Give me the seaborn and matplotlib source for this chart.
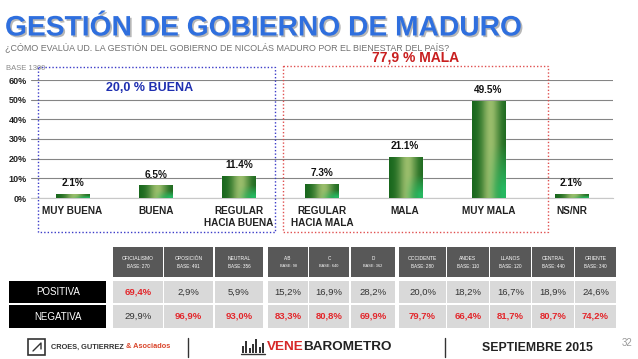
import numpy as np
import pandas as pd
import matplotlib
matplotlib.use("Agg")
import matplotlib.pyplot as plt
import matplotlib.patheffects as pe
from matplotlib.patches import Rectangle
import seaborn as sns

# ---------------- data ----------------
categories = ["MUY BUENA", "BUENA", "REGULAR\nHACIA BUENA", "REGULAR\nHACIA MALA",
              "MALA", "MUY MALA", "NS/NR"]
values = [2.1, 6.5, 11.4, 7.3, 21.1, 49.5, 2.1]
yticks = [0, 10, 20, 30, 40, 50, 60]

col_names = ["OFICIALISMO", "OPOSICIÓN", "NEUTRAL", "A/B", "C", "D",
             "OCCIDENTE", "ANDES", "LLANOS", "CENTRAL", "ORIENTE"]
col_bases = ["BASE: 270", "BASE: 491", "BASE: 356", "BASE: 98", "BASE: 640", "BASE: 362",
             "BASE: 280", "BASE: 110", "BASE: 120", "BASE: 440", "BASE: 340"]
row_names = ["POSITIVA", "NEGATIVA"]
positiva = [69.4, 2.9, 5.9, 15.2, 16.9, 28.2, 20.0, 18.2, 16.7, 18.9, 24.6]
negativa = [29.9, 96.9, 93.0, 83.3, 80.8, 69.9, 79.7, 66.4, 81.7, 80.7, 74.2]

# ---------------- figure ----------------
sns.set_style("white")
plt.rcParams["font.family"] = ["Liberation Sans", "DejaVu Sans"]

W, H = 638, 359
fig = plt.figure(figsize=(W / 100, H / 100), dpi=100)
fig.patch.set_facecolor("white")

ax = fig.add_axes([31 / W, 1 - 198 / H, (613 - 31) / W, (198 - 80) / H])
df = pd.DataFrame({"cat": categories, "val": values})
sns.barplot(data=df, x="cat", y="val", color="#2e8b3a", width=0.4, ax=ax, zorder=3)

ax.set_ylim(0, 60)
ax.set_yticks(yticks)
ax.set_yticklabels([f"{t}%" for t in yticks], fontsize=6.5, fontweight="bold", color="#222222")
ax.yaxis.grid(True, color="#858585", lw=0.8)
ax.set_axisbelow(True)
for s in ["left", "right", "top"]:
    ax.spines[s].set_visible(False)
ax.spines["bottom"].set_color("#c8c8c8")
ax.set_xlabel("")
ax.set_ylabel("")
ax.set_xticks(range(len(categories)))
ax.set_xticklabels(categories, fontsize=7.2, fontweight="bold", color="#222222", linespacing=1.25)
ax.tick_params(axis="x", length=0, pad=6)
ax.tick_params(axis="y", length=0, pad=3)
ax.set_xticks(np.arange(-0.5, len(categories), 1), minor=True)
ax.tick_params(axis="x", which="minor", length=3, color="#c8c8c8", width=0.8)
ax.set_facecolor("none")

# gradient bars
hh, vv = np.meshgrid(np.linspace(0, 1, 40), np.linspace(1, 0, 80))
dark = np.array([0.09, 0.40, 0.11])
light = np.array([0.60, 0.74, 0.42])
bright = np.array([0.15, 0.72, 0.38])
t = np.exp(-((hh - 0.55) / 0.28) ** 2)[..., None]
img = dark * (1 - t) + light * t
b = (np.clip((hh - 0.45) * 2.2, 0, 1) * np.clip((0.55 - vv) * 2.2, 0, 1))[..., None]
img = img * (1 - b) + bright * b
xl, yl = ax.get_xlim(), ax.get_ylim()
for p in ax.patches:
    x0, y0 = p.get_x(), p.get_y()
    im = ax.imshow(img, extent=(x0, x0 + p.get_width(), y0, y0 + p.get_height()),
                   aspect="auto", zorder=4, interpolation="bilinear")
    im.set_clip_path(p)
ax.set_xlim(xl)
ax.set_ylim(yl)

for c in ax.containers:
    ax.bar_label(c, labels=[f"{v}%" for v in values], padding=4, fontsize=7.2,
                 fontweight="bold", color="#111111", zorder=5)

# ---------------- overlay (pixel coordinates) ----------------
ov = fig.add_axes([0, 0, 1, 1], zorder=10)
ov.set_xlim(0, W)
ov.set_ylim(H, 0)
ov.axis("off")
ov.set_facecolor("none")

ov.text(5, 35.5, "GESTIÓN DE GOBIERNO DE MADURO", fontsize=20.3, fontweight="bold",
        color="#2f6fde", va="baseline", ha="left",
        path_effects=[pe.SimplePatchShadow(offset=(1.2, -1.2), shadow_rgbFace="#888888", alpha=0.6), pe.Normal()])
ov.text(5, 47.5, "¿CÓMO EVALÚA UD. LA GESTIÓN DEL GOBIERNO DE NICOLÁS MADURO POR EL BIENESTAR DEL PAÍS?",
        fontsize=6.4, color="#707070", va="center", ha="left")
ov.text(6, 68, "BASE 1300", fontsize=5.5, color="#8a8a8a", va="center", ha="left")

ov.add_patch(Rectangle((38, 67), 275 - 38, 232 - 67, fill=False, ec="#3b3bc8", lw=1.0, ls=(0, (1, 1.5))))
ov.add_patch(Rectangle((283, 66), 548 - 283, 232 - 66, fill=False, ec="#e05050", lw=1.0, ls=(0, (1, 1.5))))
ov.text(150, 88, "20,0 % BUENA", fontsize=9, fontweight="bold", color="#1f2fb0", ha="center", va="center")
ov.text(416, 58, "77,9 % MALA", fontsize=10, fontweight="bold", color="#c81e1e", ha="center", va="center")

# table
col_x = [(113, 163), (164, 213), (215, 263), (268, 308), (309, 349), (351, 395),
         (399, 446), (447, 489), (490, 531), (532, 574), (575, 616)]
hdr_y = (247, 277)
row_y = [(281, 303), (305, 328)]
for i, (x0, x1) in enumerate(col_x):
    ov.add_patch(Rectangle((x0, hdr_y[0]), x1 - x0, hdr_y[1] - hdr_y[0], fc="#585858", ec="none"))
    cx = (x0 + x1) / 2
    small = len(col_names[i]) <= 3
    ov.text(cx, 259, col_names[i], fontsize=3.6 if not small else 3.3, color="white", ha="center", va="center")
    ov.text(cx, 266, col_bases[i], fontsize=3.3 if not small else 2.8, color="white", ha="center", va="center")
    for r, vals in enumerate([positiva, negativa]):
        y0, y1 = row_y[r]
        ov.add_patch(Rectangle((x0, y0), x1 - x0, y1 - y0, fc="#d9d9d9", ec="none"))
        hi = vals[i] == max(positiva[i], negativa[i])
        ov.text(cx, (y0 + y1) / 2, f"{vals[i]:.1f}%".replace(".", ","), fontsize=6.8,
                color="#e3262b" if hi else "#333333", fontweight="bold" if hi else "normal",
                ha="center", va="center")
for r, name in enumerate(row_names):
    y0, y1 = row_y[r]
    ov.add_patch(Rectangle((9, y0), 106 - 9, y1 - y0, fc="black", ec="none"))
    ov.text(58, (y0 + y1) / 2, name, fontsize=7, color="white", ha="center", va="center")

# footer
fy = 347
ov.add_patch(Rectangle((28, 339), 17, 16, fill=False, ec="#333333", lw=1.2))
ov.plot([33, 41, 41], [351, 343, 349], color="#333333", lw=1.0)
t1 = ov.text(51, fy, "CROES, GUTIERREZ ", fontsize=5.3, fontweight="bold", color="#333333", ha="left", va="center")
fig.canvas.draw()
bb = t1.get_window_extent().transformed(ov.transData.inverted())
ov.text(bb.x1, fy, "& Asociados", fontsize=5.3, fontweight="bold", color="#d9442a", ha="left", va="center")
ov.plot([188, 188], [338, 357], color="#333333", lw=1.0)
ov.plot([445, 445], [338, 357], color="#333333", lw=1.0)
for k, hgt in enumerate([7, 12, 5, 9, 14, 6, 10]):
    ov.add_patch(Rectangle((242 + k * 3.3, 353 - hgt), 2, hgt, fc="#333333", ec="none"))
ov.plot([241, 265], [353.5, 353.5], color="#333333", lw=1.0)
t2 = ov.text(267, fy, "VENE", fontsize=9.7, fontweight="bold", color="#d62828", ha="left", va="center")
fig.canvas.draw()
bb = t2.get_window_extent().transformed(ov.transData.inverted())
ov.text(bb.x1 - 1.0, fy, "BAROMETRO", fontsize=9.7, fontweight="bold", color="#222222", ha="left", va="center")
ov.text(482, 348, "SEPTIEMBRE 2015", fontsize=8.8, fontweight="bold", color="#222222", ha="left", va="center")
ov.text(622, 343, "32", fontsize=7, color="#999999", ha="left", va="center")

fig.savefig("out.png", dpi=100, facecolor="white")
